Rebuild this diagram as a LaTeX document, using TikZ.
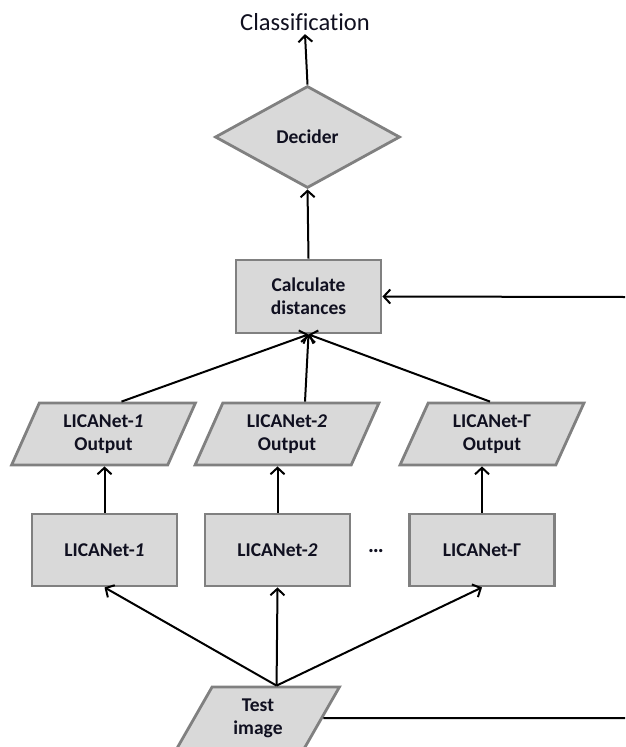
\documentclass[tikz,border=0pt]{standalone}
\usepackage{fontspec}
\setmainfont{Carlito}[Ligatures={NoCommon}]
\usetikzlibrary{shapes.geometric,arrows.meta}
\definecolor{boxfill}{HTML}{D9D9D9}
\definecolor{boxborder}{HTML}{808080}
\definecolor{txt}{HTML}{101020}
\begin{document}
\begin{tikzpicture}[x=1pt,y=-1pt,
  lbl/.style={font=\bfseries\fontsize{19.5}{23}\selectfont, align=center, text=txt},
  procbox/.style={lbl, draw=boxborder, fill=boxfill, line width=2.8pt, rectangle,
    minimum width=145pt, minimum height=72pt, inner sep=0pt},
  para/.style={lbl, draw=boxborder, fill=boxfill, line width=2.8pt, trapezium,
    trapezium left angle=66, trapezium right angle=114, trapezium stretches=true,
    minimum width=184pt, minimum height=62pt, inner sep=0pt},
  dia/.style={lbl, draw=boxborder, fill=boxfill, line width=2.8pt, diamond,
    minimum width=185pt, minimum height=102pt, inner sep=0pt},
  conn/.style={draw=black, line width=2pt, -{Straight Barb[length=6.5pt,width=14pt,line width=2pt]}},
  plain/.style={draw=black, line width=2pt}
]
\useasboundingbox (0,0) rectangle (625,747);

\node[font=\fontsize{24.5}{28}\selectfont, text=txt] (cls) at (305,22) {Classification};
\node[dia] (dec) at (307.5,137) {Decider};
\node[procbox, minimum height=73pt] (calc) at (308.5,296.5) {Calculate\\distances};

\node[para] (p1) at (103.5,434) {LICANet-\textit{1}\\Output};
\node[para] (p2) at (287,434) {LICANet-\textit{2}\\Output};
\node[para] (p3) at (492,434) {LICANet-Γ\\Output};

\node[procbox] (b1) at (104.5,550) {LICANet-\textit{1}};
\node[procbox] (b2) at (277.5,550) {LICANet-\textit{2}};
\node[procbox] (b3) at (482,550) {LICANet-Γ};
\node[lbl, font=\bfseries\fontsize{22}{23}\selectfont] (dots) at (376,551) {…};

\node[para, trapezium left angle=64, trapezium right angle=116, minimum width=164pt] (test) at (258,718) {Test\\image};

\coordinate (r1) at (625,718);
\coordinate (r2) at (625,297);

% connectors
\draw[conn] (dec.north) -- (cls.south);
\draw[conn] (calc.north) -- (dec.south);
\draw[conn] ([xshift=18pt]p1.north) -- (calc.south);
\draw[conn] ([xshift=18pt]p2.north) -- (calc.south);
\draw[conn] ([xshift=-2pt]p3.north) -- (calc.south);
\draw[conn] (b1.north) -- (b1.north |- p1.south);
\draw[conn] (b2.north) -- (b2.north |- p2.south);
\draw[conn] (b3.north) -- (b3.north |- p3.south);
\draw[conn] (test.top side) -- (b1.south);
\draw[conn] (test.top side) -- (b2.south);
\draw[conn] (test.top side) -- (b3.south);
\draw[plain] (test.east) -- (r1);
\draw[conn] (r2) -- (calc.east);
\end{tikzpicture}
\end{document}
